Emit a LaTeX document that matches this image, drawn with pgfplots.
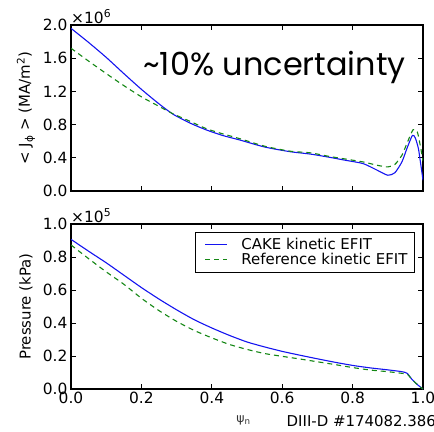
\documentclass[border=0pt]{standalone}
\usepackage{fontspec}
\setmainfont{DejaVu Sans}
\newfontfamily\gothic{Poppins}
\usepackage{pgfplots}
\pgfplotsset{compat=1.18}
\definecolor{mblue}{RGB}{20,20,240}
\definecolor{mgreen}{RGB}{20,135,20}

\pgfplotsset{
  common/.style={
    scale only axis, width=352bp,
    xmin=0, xmax=1, xtick={0,0.2,...,1.0},
    tick align=inside, major tick length=5bp,
    axis line style={line width=1.2bp}, every tick/.style={black, line width=0.8bp},
    /pgf/number format/assume math mode=true,
    tick label style={font=\fontsize{15.5}{15.5}\selectfont},
    yticklabel style={/pgf/number format/fixed, /pgf/number format/fixed zerofill,
      /pgf/number format/precision=1},
    xticklabel style={/pgf/number format/fixed, /pgf/number format/fixed zerofill,
      /pgf/number format/precision=1},
    scaled y ticks=true,
    every y tick scale label/.style={at={(rel axis cs:0,1)}, anchor=south west,
      inner sep=0pt, yshift=1.5bp, font=\fontsize{15.5}{15.5}\selectfont},
    ylabel style={at={(rel axis cs:-0.128,0.5)}, anchor=center, rotate=0,
      font=\fontsize{15}{15}\selectfont},
    blueline/.style={mblue, line width=1.1bp, smooth, tension=0.4},
    greenline/.style={mgreen, line width=1.1bp, dash pattern=on 5bp off 4bp, smooth, tension=0.4},
  }
}

\begin{document}
\begin{tikzpicture}
\useasboundingbox (0,0) rectangle (434bp,-432bp);

% current density profile
\begin{axis}[common,
  at={(71bp,-191bp)}, anchor=south west, height=166bp,
  ymin=0, ymax=2000000, ytick={0,400000,800000,1200000,1600000,2000000},
  xticklabels=\empty,
  ytick scale label code/.code={×10\textsuperscript{6}},
  ylabel={< J\textsubscript{ϕ} > (MA/m\textsuperscript{2})},
]
\addplot[blueline] coordinates {
 (0.000,1960000) (0.050,1790000) (0.100,1610000) (0.150,1415000) (0.200,1225000)
 (0.250,1050000) (0.290,925000) (0.340,815000) (0.385,735000) (0.430,670000)
 (0.480,614000) (0.550,530000) (0.622,474000) (0.680,445000) (0.736,405000)
 (0.780,370000) (0.830,330000) (0.870,250000) (0.900,190000) (0.920,220000)
 (0.940,350000) (0.955,520000) (0.970,670000) (0.978,640000) (0.987,510000)
 (0.995,280000) (1.000,130000)
};
\addplot[greenline] coordinates {
 (0.000,1720000) (0.050,1565000) (0.100,1415000) (0.150,1270000) (0.200,1135000)
 (0.250,1020000) (0.290,930000) (0.338,840000) (0.385,750000) (0.430,690000)
 (0.480,630000) (0.550,540000) (0.622,480000) (0.680,460000) (0.736,415000)
 (0.780,385000) (0.830,350000) (0.870,310000) (0.900,290000) (0.920,320000)
 (0.940,430000) (0.955,580000) (0.972,740000) (0.984,710000) (0.993,530000)
 (1.000,360000)
};
\end{axis}

% pressure profile
\begin{axis}[common,
  at={(71bp,-389bp)}, anchor=south west, height=165bp,
  ymin=0, ymax=100000, ytick={0,20000,40000,60000,80000,100000},
  ytick scale label code/.code={×10\textsuperscript{5}},
  ylabel={Pressure (kPa)},
  xlabel={ψ\textsubscript{n}},
  xlabel style={at={(rel axis cs:0.49,-0.19)}, anchor=center,
    font=\fontsize{12.5}{12.5}\selectfont, text=black!80},
  legend style={at={(rel axis cs:0.977,0.952)}, anchor=north east,
    draw=black, line width=1bp, font=\fontsize{15}{15}\selectfont,
    inner xsep=5bp, inner ysep=4bp, row sep=-2bp},
  legend cell align=left,
  legend image code/.code={\path[draw=none] (0bp,0bp) -- (39bp,0bp);
    \draw[#1] (5bp,0bp) -- (27bp,0bp);},
]
\addplot[blueline] coordinates {
 (0.000,90700) (0.050,83500) (0.100,76500) (0.150,69000) (0.200,61500)
 (0.250,54500) (0.300,48000) (0.350,42000) (0.400,37000) (0.450,32500)
 (0.500,28500) (0.550,25500) (0.600,22800) (0.650,20500) (0.700,18300)
 (0.750,16200) (0.800,14300) (0.850,12800) (0.900,11600) (0.940,10500)
 (0.955,9500) (0.968,6000) (0.985,2500) (1.000,0)
};
\addlegendentry{CAKE kinetic EFIT}
\addplot[greenline] coordinates {
 (0.000,87300) (0.050,79000) (0.100,71000) (0.150,63500) (0.200,55000)
 (0.250,47500) (0.300,41000) (0.350,35500) (0.400,31000) (0.450,27000)
 (0.500,24000) (0.550,21500) (0.600,19800) (0.650,18200) (0.700,16500)
 (0.750,14800) (0.800,13000) (0.850,11500) (0.900,10500) (0.940,9500)
 (0.955,9000) (0.968,6000) (0.985,2500) (1.000,0)
};
\addlegendentry{Reference kinetic EFIT}
\end{axis}

\node[anchor=base, inner sep=0pt, font=\gothic\fontsize{32}{32}\selectfont]
  at (274.5bp,-75bp) {\textasciitilde 10\% uncertainty};
\node[anchor=base west, inner sep=0pt, font=\fontsize{15}{15}\selectfont]
  at (286.5bp,-426bp) {DIII-D \#174082.386};
\end{tikzpicture}
\end{document}
